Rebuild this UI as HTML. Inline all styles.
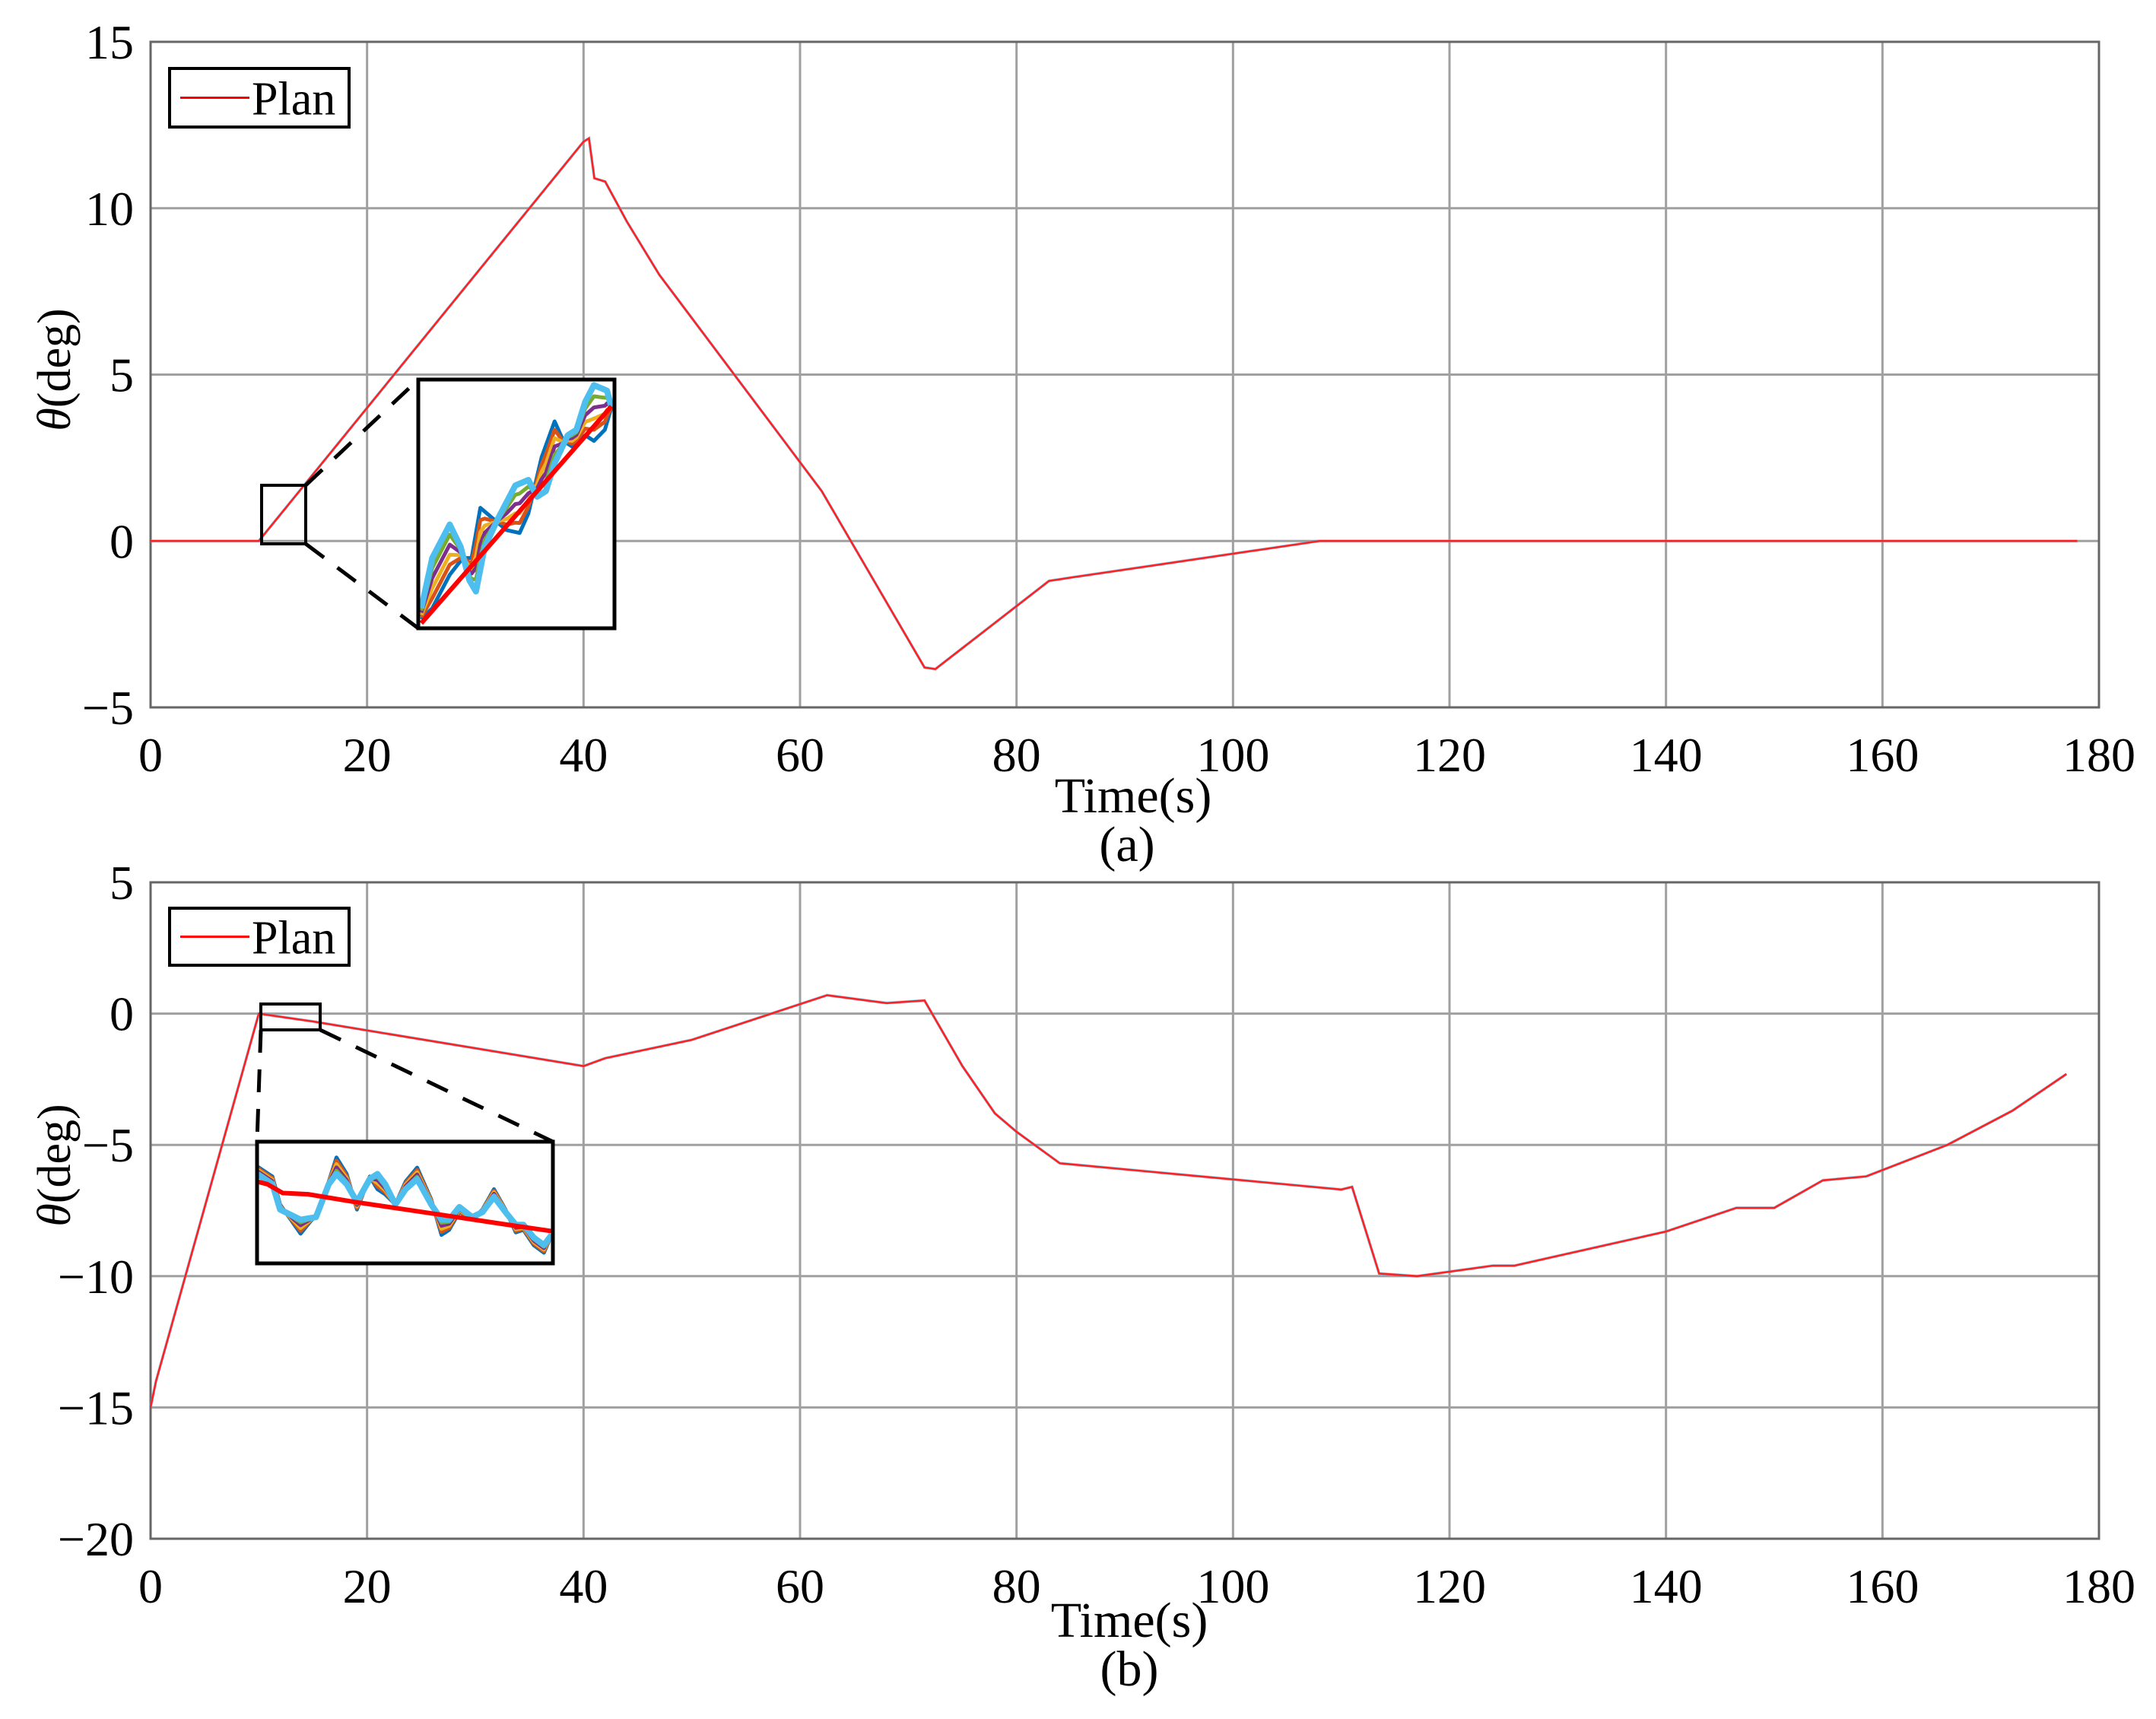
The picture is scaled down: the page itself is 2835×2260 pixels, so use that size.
<!DOCTYPE html>
<html><head><meta charset="utf-8"><style>
html,body{margin:0;padding:0;background:#fff}
svg{display:block}
text{font-family:"Liberation Serif",serif;fill:#000}
</style></head><body>
<svg id="fig" width="2835" height="2260" viewBox="0 0 2835 2260"></svg>
<script>
// ---- data ----
const xTicks = [0,20,40,60,80,100,120,140,160,180];
const yTicksA = [15,10,5,0,-5];
const yTicksB = [5,0,-5,-10,-15,-20];
const planATime = [0,10,40,40.5,41,42,44,47,62,71.5,72.5,83,85,108,178];
const planAVal  = [0,0,12,12.1,10.9,10.8,9.6,8,1.5,-3.8,-3.85,-1.2,-1.1,0,0];
const planBTime = [0,0.5,10,15,40,42,50,62.5,68,71.5,75,78,80,83,84,110,111,113.5,117,124,126,140,146.5,150,154.5,158.5,166,172,177];
const planBVal  = [-15,-14,0,-0.3,-2,-1.7,-1,0.7,0.4,0.5,-2,-3.8,-4.5,-5.4,-5.7,-6.7,-6.6,-9.9,-10,-9.6,-9.6,-8.3,-7.4,-7.4,-6.35,-6.2,-5,-3.7,-2.3];
// inset A (local zoom coords)
const insAx = [965,990,1030,1055,1075,1090,1110,1140,1180,1210,1230,1250,1270,1300,1320,1340,1360,1390,1400];
const insALight = [1090,1000,940,980,1040,1060,980,930,870,860,890,880,830,780,770,720,690,700,730];
const insAx2 = [965,990,1030,1060,1080,1100,1130,1160,1190,1210,1240,1270,1290,1310,1340,1360,1385,1400];
const insADark = [1110,1090,1030,1000,1000,910,930,950,955,920,820,755,790,800,780,790,770,730];
const insAPlanX = [965,1400];
const insAPlanY = [1117,728];
// inset B (local zoom coords)
const insBx = [120,180,210,290,350,400,430,470,510,560,590,620,660,700,745,800,840,870,910,960,1000,1045,1090,1130,1160,1200,1240,1270];
const insBLight = [760,800,900,940,930,800,760,800,870,780,760,800,880,820,780,880,940,940,890,930,910,850,910,960,960,1010,1040,1000];
const insBDark  = [730,770,880,995,920,790,695,760,900,770,820,840,880,790,735,860,1000,980,910,940,900,820,900,990,980,1040,1070,1000];
const insBPlanX = [120,160,220,320,500,700,900,1100,1270];
const insBPlanY = [790,800,835,840,870,900,930,960,985];

const NS='http://www.w3.org/2000/svg';
const svg=document.getElementById('fig');
function el(tag,attrs,parent){const e=document.createElementNS(NS,tag);for(const k in attrs)e.setAttribute(k,attrs[k]);(parent||svg).appendChild(e);return e;}
const L=198,R=2760;
function sx(t){return L+(t-0)/(180-0)*(R-L);}
function panel(top,bot,ymax,ymin,yTicks,timeArr,valArr,tag){
  const sy=v=>top+(ymax-v)/(ymax-ymin)*(bot-top);
  const g=el('g',{});
  
  
  xTicks.forEach(t=>{const l=el('line',{x1:sx(t),x2:sx(t),y1:top,y2:bot,stroke:'#a0a0a0','stroke-width':3},g);
    
    const tx=el('text',{x:sx(t),y:bot+84,'text-anchor':'middle','font-size':64},g);tx.textContent=t;
    });
  yTicks.forEach(v=>{const l=el('line',{x1:L,x2:R,y1:sy(v),y2:sy(v),stroke:'#a0a0a0','stroke-width':3},g);
    
    const tx=el('text',{x:176,y:sy(v)+22,'text-anchor':'end','font-size':64},g);tx.textContent=(v<0?'\u2212':'')+Math.abs(v);
    });
  const fr=el('rect',{x:L,y:top,width:R-L,height:bot-top,fill:'none',stroke:'#666','stroke-width':3},g);
  
  const pts=timeArr.map((t,i)=>sx(t)+','+sy(valArr[i])).join(' ');
  const bl=el('polyline',{points:pts,fill:'none',stroke:'#4dbeee','stroke-width':4,opacity:0.5},g);
  
  const pl=el('polyline',{points:pts,fill:'none',stroke:'#ff2020','stroke-width':2.6},g);
  
  return sy;
}
const syA=panel(55,930,15,-5,yTicksA,planATime,planAVal,'panel-a');
const syB=panel(1160,2023,5,-20,yTicksB,planBTime,planBVal,'panel-b');

function legend(x,y,w,h){
  const r=el('rect',{x:x,y:y,width:w,height:h,fill:'#fff',stroke:'#000','stroke-width':4});
  
  const l=el('line',{x1:x+14,x2:x+105,y1:y+h/2,y2:y+h/2,stroke:'#ff0000','stroke-width':3});
  
  const t=el('text',{x:x+108,y:y+h/2+22,'font-size':62});t.textContent='Plan';
  
}
legend(223,90,236,77);
legend(223,1194,236,75);

function label(x,y,s,txt,name,rot){
  const t=el('text',{x:x,y:y,'text-anchor':'middle','font-size':s});
  if(rot)t.setAttribute('transform','rotate(-90 '+x+' '+y+')');
  t.innerHTML=txt;
  
}
label(1490,1068,66,'Time(s)','x-axis-title-a');
label(1482,1132,66,'(a)','caption-a');
label(1485,2152,66,'Time(s)','x-axis-title-b');
label(1485,2216,66,'(b)','caption-b');
label(92,486,62,'<tspan font-style="italic">θ</tspan>(deg)','y-axis-title-a',true);
label(92,1532,62,'<tspan font-style="italic">θ</tspan>(deg)','y-axis-title-b',true);

// insets
const cols=['#0072bd','#d95319','#edb120','#7e2f8e','#77ac30','#4dbeee'];
function interp(xs,ys,x){for(let i=0;i<xs.length-1;i++){if(x<=xs[i+1]){const f=(x-xs[i])/(xs[i+1]-xs[i]);return ys[i]+f*(ys[i+1]-ys[i]);}}return ys[ys.length-1];}
function inset(box,zoomBox,small,lx,light,lx2,dark,px,py,tag){
  const [bx0,by0,bx1,by1]=box,[zx0,zy0,zx1,zy1]=zoomBox;
  const mx=v=>bx0+(v-zx0)/(zx1-zx0)*(bx1-bx0), my=v=>by0+(v-zy0)/(zy1-zy0)*(by1-by0);
  const g=el('g',{});
  el('rect',{x:bx0,y:by0,width:bx1-bx0,height:by1-by0,fill:'#fff'},g);
  const xs=[];for(let x=lx[0];x<=lx[lx.length-1];x+=5)xs.push(x);
  cols.forEach((c,k)=>{const f=k/5;
    const pts=xs.map(x=>{const a=interp(lx2,dark,x),b=interp(lx,light,x);return mx(x)+','+my(a+(b-a)*f);}).join(' ');
    const p=el('polyline',{points:pts,fill:'none',stroke:c,'stroke-width':k==5?8:5,'stroke-linejoin':'round'},g);
    });
  const pp=el('polyline',{points:px.map((x,i)=>mx(x)+','+my(py[i])).join(' '),fill:'none',stroke:'#ff0000','stroke-width':6},g);
  
  const r=el('rect',{x:bx0,y:by0,width:bx1-bx0,height:by1-by0,fill:'none',stroke:'#000','stroke-width':5},g);
  
  const s=el('rect',{x:small[0],y:small[1],width:small[2]-small[0],height:small[3]-small[1],fill:'none',stroke:'#000','stroke-width':4},g);
  
  return g;
}
inset([550,499,808,826],[958,680,1407,1126],[344,638,402,715],insAx,insALight,insAx2,insADark,insAPlanX,insAPlanY,'inset-a');
[[402,638,550,499],[402,715,550,826]].forEach(c=>{const l=el('line',{x1:c[0],y1:c[1],x2:c[2],y2:c[3],stroke:'#000','stroke-width':5,'stroke-dasharray':'30,22'});
  });
inset([338,1501,727,1661],[120,633,1275,1112],[343,1320,421,1354],insBx,insBLight,insBx,insBDark,insBPlanX,insBPlanY,'inset-b');
[[343,1354,338,1501],[421,1354,727,1501]].forEach(c=>{const l=el('line',{x1:c[0],y1:c[1],x2:c[2],y2:c[3],stroke:'#000','stroke-width':5,'stroke-dasharray':'30,22'});
  });
</script>
</body></html>
